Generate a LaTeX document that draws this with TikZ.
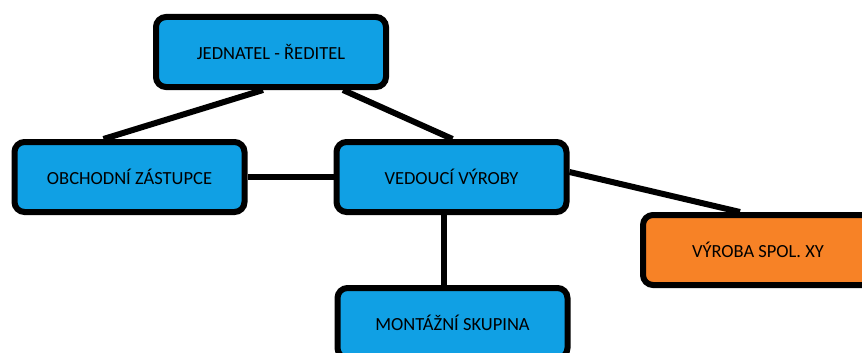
\documentclass[tikz,border=0pt]{standalone}
\usepackage{fontspec}
\setmainfont{Carlito}
\usetikzlibrary{calc}
\definecolor{boxblue}{RGB}{16,160,228}
\definecolor{boxorange}{RGB}{247,130,38}
\tikzset{
  orgbox/.style={draw=black, line width=6pt, rounded corners=10pt, fill=boxblue,
    minimum width=230pt, minimum height=70pt, inner sep=0pt, font=\fontsize{18.5}{20}\selectfont, text=black},
  link/.style={line width=6pt, draw=black}
}
\begin{document}
\begin{tikzpicture}[x=1pt,y=-1pt]
\useasboundingbox (0,0) rectangle (862,353);
\clip (0,0) rectangle (862,353);
\node[orgbox] (j) at (271,52) {JEDNATEL - ŘEDITEL};
\node[orgbox] (o) at (129.5,177) {OBCHODNÍ ZÁSTUPCE};
\node[orgbox] (v) at (451.5,177) {VEDOUCÍ VÝROBY};
\node[orgbox, fill=boxorange] (x) at (758,250) {VÝROBA SPOL. XY};
\node[orgbox] (m) at (452.5,323) {MONTÁŽNÍ SKUPINA};
\draw[link] ($(j.south)+(-8pt,0pt)$) -- ($(o.north)+(-26pt,0pt)$);
\draw[link] ($(j.south)+(72pt,0pt)$) -- ($(v.north)+(1pt,0pt)$);
\draw[link] (o.east) -- (v.west);
\draw[link] ($(v.south)+(-8pt,0pt)$) -- ($(m.north)+(-9pt,0pt)$);
\draw[link] ($(v.east)+(0pt,5pt)$) -- ($(x.north)+(-18pt,0pt)$);
\end{tikzpicture}
\end{document}
